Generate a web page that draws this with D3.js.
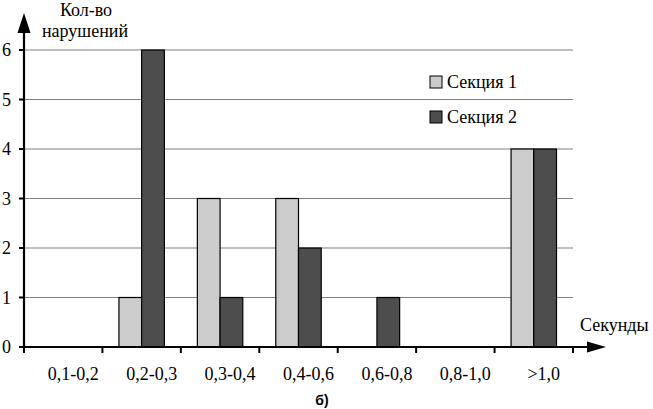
<!DOCTYPE html>
<html><head><meta charset="utf-8">
<script src="https://cdn.jsdelivr.net/npm/d3@7"></script>
<style>body{margin:0;background:#fff;font-family:"Tinos"}svg{display:block}</style>
</head><body>
<script>
const categories = ["0,1-0,2","0,2-0,3","0,3-0,4","0,4-0,6","0,6-0,8","0,8-1,0",">1,0"];
const seriesNames = ["Секция 1","Секция 2"];
const section1 = [0,1,3,3,0,0,4];
const section2 = [0,6,1,2,1,0,4];
const yTicks = [0,1,2,3,4,5,6];
const colors = ["#cccccc","#4d4d4d"];

const W=653,H=409;
const svg=d3.select("body").append("svg").attr("width",W).attr("height",H);
function serifText(sel){return sel.style("font-family",'"Tinos"').style("font-size","18px");}

const x=d3.scaleBand().domain(categories).range([24,573]).padding(0);
const xs=d3.scaleBand().domain(seriesNames).range([16.5,x.bandwidth()-16.5]).padding(0);
const y=d3.scaleLinear().domain([0,6]).range([347,50]);

const textLayer=svg.append("g");
serifText(textLayer.append("text").attr("x",86).attr("y",16).attr("text-anchor","middle").text("Кол-во"));
serifText(textLayer.append("text").attr("x",85).attr("y",37).attr("text-anchor","middle").text("нарушений"));
serifText(textLayer.append("text").attr("x",580).attr("y",331).text("Секунды"));
serifText(textLayer.append("g").selectAll("text").data(categories).join("text")
  .attr("x",d=>x(d)+x.bandwidth()/2+10).attr("y",380).attr("text-anchor","middle").text(d=>d));
serifText(textLayer.append("g").selectAll("text").data(yTicks).join("text")
  .attr("x",11).attr("y",d=>y(d)+6).attr("text-anchor","end").text(d=>d));

svg.append("g").selectAll("line").data(yTicks.filter(d=>d>0)).join("line")
  .attr("x1",24).attr("x2",573).attr("y1",d=>y(d)).attr("y2",d=>y(d))
  .attr("stroke","#808080").attr("stroke-width",1.2);

const data=categories.map((c,i)=>({c,vals:[section1[i],section2[i]]}));
const g=svg.append("g").selectAll("g").data(data).join("g")
  .attr("transform",d=>`translate(${x(d.c)},0)`);
g.selectAll("rect").data(d=>d.vals.map((v,j)=>({v,s:seriesNames[j],j})).filter(e=>e.v>0)).join("rect")
  .attr("x",e=>xs(e.s)).attr("width",xs.bandwidth())
  .attr("y",e=>y(e.v)).attr("height",e=>y(0)-y(e.v))
  .attr("fill",e=>colors[e.j]).attr("stroke","#000").attr("stroke-width",1.2);

svg.append("line").attr("x1",23).attr("x2",590).attr("y1",347).attr("y2",347).attr("stroke","#000").attr("stroke-width",2.2);
svg.append("path").attr("d","M587,341.5L606,347L587,352.5Z").attr("fill","#000");
const xb=categories.map(c=>x(c)+x.bandwidth());
svg.append("g").selectAll("line").data([24,...xb]).join("line")
  .attr("x1",d=>d).attr("x2",d=>d).attr("y1",347).attr("y2",353).attr("stroke","#000").attr("stroke-width",2);

svg.append("line").attr("x1",24).attr("x2",24).attr("y1",348).attr("y2",30).attr("stroke","#000").attr("stroke-width",2.2);
svg.append("path").attr("d","M17.5,33L24,13L30.5,33Z").attr("fill","#000");
svg.append("g").selectAll("line").data(yTicks).join("line")
  .attr("x1",19).attr("x2",24).attr("y1",d=>y(d)).attr("y2",d=>y(d)).attr("stroke","#000").attr("stroke-width",2);

const lg=svg.append("g").selectAll("g").data(seriesNames).join("g")
  .attr("transform",(d,i)=>`translate(430,${76+i*35})`);
lg.append("rect").attr("width",12).attr("height",12).attr("fill",(d,i)=>colors[i]).attr("stroke","#000").attr("stroke-width",1);
serifText(lg.append("text").attr("x",17).attr("y",12).text(d=>d));

svg.append("text").attr("x",322).attr("y",405).attr("text-anchor","middle")
  .style("font-family",'"Liberation Sans"').style("font-weight","bold").style("font-size","14px").text("б)");
</script>
</body></html>
